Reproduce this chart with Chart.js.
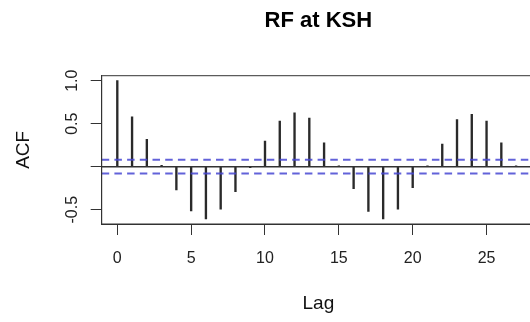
<!DOCTYPE html>
<html>
<head>
<meta charset="utf-8">
<script src="https://cdn.jsdelivr.net/npm/chart.js@4/dist/chart.umd.min.js"></script>
<style>
  html, body { margin: 0; padding: 0; background: #fff; overflow: hidden; }
  #wrap { position: absolute; left: 0; top: 0; width: 545px; height: 322px; }
</style>
</head>
<body>
<div id="wrap"><canvas id="acf" width="545" height="322"></canvas></div>
<script>
// ---- data ----
const lags = [0, 1, 2, 3, 4, 5, 6, 7, 8, 9, 10, 11, 12, 13, 14, 15, 16, 17, 18, 19, 20, 21, 22, 23, 24, 25, 26, 27];
const acfValues = [1.0, 0.58, 0.317, 0.015, -0.27, -0.513, -0.606, -0.494, -0.29, -0.01,
  0.298, 0.53, 0.626, 0.565, 0.278, 0.01, -0.255, -0.52, -0.606, -0.494,
  -0.243, 0.01, 0.263, 0.549, 0.61, 0.53, 0.278, 0.01];
const ciLimit = 0.08;
const xTicks = [0, 5, 10, 15, 20, 25];
const yTicks = [-0.5, 0, 0.5, 1.0];
const yTickLabels = ['-0.5', '', '0.5', '1.0'];
const xRange = [-1.056, 28.28];
const yRange = [-0.666, 1.058];

const FONT = '"Liberation Sans", Arial, Helvetica, sans-serif';
const INK = '#333';

// R style box + rotated y tick labels
const rBox = {
  id: 'rBox',
  afterDraw(chart) {
    const { ctx, chartArea: a, scales: { y } } = chart;
    ctx.save();
    ctx.strokeStyle = INK;
    ctx.lineWidth = 1;
    ctx.strokeRect(a.left, a.top, a.right - a.left, a.bottom - a.top);
    ctx.fillStyle = '#222';
    ctx.font = '16px ' + FONT;
    ctx.textAlign = 'center';
    ctx.textBaseline = 'middle';
    yTicks.forEach((v, i) => {
      if (!yTickLabels[i]) return;
      ctx.save();
      ctx.translate(a.left - 29, y.getPixelForValue(v));
      ctx.rotate(-Math.PI / 2);
      ctx.fillText(yTickLabels[i], 0, 0);
      ctx.restore();
    });
    ctx.restore();
  }
};

const hLine = (val) => [{ x: xRange[0], y: val }, { x: xRange[1], y: val }];

new Chart(document.getElementById('acf'), {
  type: 'bar',
  data: {
    datasets: [
      {
        type: 'line',
        data: hLine(ciLimit),
        borderColor: 'rgba(70, 70, 210, 0.85)',
        borderWidth: 2,
        borderDash: [7.5, 5.2],
        pointRadius: 0,
        order: 1
      },
      {
        type: 'line',
        data: hLine(-ciLimit),
        borderColor: 'rgba(70, 70, 210, 0.85)',
        borderWidth: 2,
        borderDash: [7.5, 5.2],
        pointRadius: 0,
        order: 1
      },
      {
        type: 'line',
        data: hLine(0),
        borderColor: INK,
        borderWidth: 1.5,
        pointRadius: 0,
        order: 2
      },
      {
        data: lags.map((l, i) => ({ x: l, y: acfValues[i] })),
        backgroundColor: '#2a2a2a',
        barThickness: 1.7,
        order: 3
      }
    ]
  },
  options: {
    responsive: false,
    animation: false,
    devicePixelRatio: 1,
    layout: { padding: { left: 0, right: 10, top: 0, bottom: 0 } },
    plugins: {
      legend: { display: false },
      tooltip: { enabled: false },
      title: {
        display: true,
        text: 'RF at KSH',
        fullSize: false,
        color: '#000',
        font: { family: FONT, size: 22, weight: 'bold', lineHeight: 1.2 },
        padding: { top: 8, bottom: 41.3 }
      }
    },
    scales: {
      x: {
        type: 'linear',
        min: xRange[0],
        max: xRange[1],
        offset: false,
        afterBuildTicks: (s) => { s.ticks = xTicks.map((v) => ({ value: v })); },
        afterFit: (s) => { s.height = 98; },
        grid: { offset: false, drawOnChartArea: false, drawTicks: true, tickLength: 11, color: INK },
        border: { display: true, color: INK, width: 1 },
        ticks: { color: '#222', padding: 14, font: { family: FONT, size: 16 }, maxRotation: 0 },
        title: { display: true, text: 'Lag', color: '#111', font: { family: FONT, size: 19 }, padding: { top: 0, bottom: 6.6 } }
      },
      y: {
        min: yRange[0],
        max: yRange[1],
        afterBuildTicks: (s) => { s.ticks = yTicks.map((v) => ({ value: v })); },
        afterFit: (s) => { s.width = 101.7; },
        grid: { drawOnChartArea: false, drawTicks: true, tickLength: 11, color: INK },
        border: { display: true, color: INK, width: 1 },
        ticks: { display: false },
        title: { display: true, text: 'ACF', color: '#111', font: { family: FONT, size: 19 }, padding: { top: 12, bottom: 0 } }
      }
    }
  },
  plugins: [rBox]
});
</script>
</body>
</html>
